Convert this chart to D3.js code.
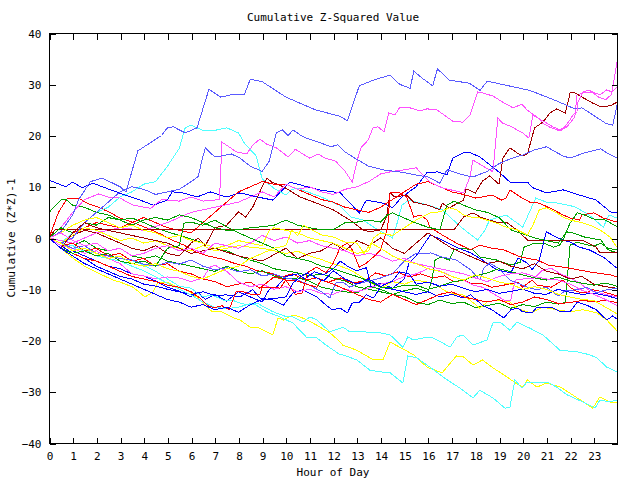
<!DOCTYPE html>
<html><head><meta charset="utf-8">
<script src="https://cdn.jsdelivr.net/npm/d3@7"></script>
<style>body{margin:0;background:#fff}svg{display:block}text{font-family:"DejaVu Sans Mono",monospace;font-size:11px;fill:#000}</style>
</head><body>
<script>
// ---- data: [hour, cumulative value] ----
const hourTicks = d3.range(0, 24);
const valueTicks = [-40, -30, -20, -10, 0, 10, 20, 30, 40];

const R1 = [[0,0],[0.4,5],[0.75,7.6],[1.25,7.8],[1.6,6.8],[2.1,6],[2.6,4.9],[3,3.9],[3.5,3.1],[4.1,2],[4.7,0.8],[5.2,-0.4],[5.7,-1.4],[6.2,-2.7],[6.7,-3.5],[7.3,-4.1],[7.8,-4.9],[8.3,-5.5],[8.8,-6.4],[9.3,-6.8],[9.8,-7.6],[10.3,-7],[10.8,-8.2],[11.3,-7.8],[11.8,-8.6],[12.3,-7.8],[12.8,-8.8],[13.3,-8.4],[13.8,-6.8],[14.2,-7.4],[14.7,-6.6],[15.2,-7.6],[15.7,-7],[16.2,-7.8],[16.7,-7.4],[17.1,-8.6],[17.5,-8.2],[17.8,-8.8],[18.2,-8.8],[18.7,-9.6],[19.2,-9.2],[19.8,-8.6],[20,-9.6],[20.4,-8.2],[20.6,-9.2],[21.2,-9.6],[21.7,-8.2],[22,-9.6],[22.3,-10.5],[22.7,-10.7],[22.96,-10.1],[23.4,-10.5],[23.98,-11.3]];
const G1 = [[0,5],[0.5,7.4],[0.7,7.6],[1,6.4],[1.5,6],[2,5],[2.5,4.5],[3,3.5],[3.5,3.9],[4,3],[4.5,2],[5,1.2],[5.5,0.5],[6,-0.2],[6.5,-1],[7,-2],[7.5,-2.5],[8,-3.5],[8.5,-4.3],[9,-5],[9.5,-6],[10,-6.4],[10.5,-6.8],[11,-7.4],[11.5,-7],[12,-7.8],[12.5,-8.4],[13,-9.5],[13.5,-10],[14,-10.5],[14.5,-11],[15,-11.4],[15.5,-12.5],[16,-13],[16.5,-12.1],[17,-12.8],[17.5,-12.5],[18,-13.6],[18.5,-13.2],[19,-12.7],[19.5,-13.7],[20,-13],[20.5,-13.4],[21,-12.5],[21.5,-12.9],[21.8,-12.6],[21.9,-7],[22,-1.4],[22.3,-0.8],[22.6,-1.2],[23,-1.6],[23.3,-1],[23.6,-2],[23.98,-2.3]];
const B1 = [[0,11.3],[0.7,10],[1,10.9],[1.4,9.8],[1.85,10.7],[2.6,9.4],[3.2,8.4],[3.85,7.4],[4.4,6.4],[5,7.4],[5.2,9],[5.65,8.8],[6.25,8],[6.8,9],[7.5,8],[8.06,8.8],[8.8,8],[9.45,7.4],[10.17,10.9],[10.9,10],[11.4,9.4],[12.3,8.8],[13.1,4.9],[13.4,7.4],[14.1,6.8],[14.5,5.9],[14.9,8],[15.5,10],[15.95,12.7],[16.4,12.9],[16.8,12.3],[17.05,15.6],[17.5,16.6],[17.8,16.6],[18.2,15.8],[19.04,12.7],[19.46,10.9],[20.2,10.9],[20.43,9.8],[21,8.8],[21.7,9.4],[22.1,8.8],[23.1,7.4],[23.7,5.1],[23.98,4.9]];
const M1 = [[0,0],[0.5,2],[1,5],[1.5,7.5],[2.1,8.6],[2.5,8],[3,7.8],[3.5,6.5],[4,6],[4.3,5.8],[4.75,7.5],[5.5,7.2],[6,8],[6.5,7.2],[7.2,7.5],[7.3,18.7],[7.6,17.8],[7.9,16.8],[8.35,16.4],[8.6,18.1],[8.9,19.3],[9.2,18.3],[9.6,17.6],[10.1,15.8],[10.4,17.3],[11,15.6],[11.35,16.4],[11.65,15.6],[12.1,15],[12.5,13],[12.8,10.9],[13.04,15.6],[13.17,17.6],[13.47,19.1],[13.68,21.5],[13.89,21.7],[14.14,20.7],[14.35,24.4],[14.6,24],[14.8,25.4],[15.24,25.4],[15.66,24.8],[15.96,25.2],[16.38,25],[16.8,23.6],[17.05,22.8],[17.48,22.6],[17.77,24],[18.1,28.5],[18.32,28.3],[18.74,27.7],[19.16,26.5],[19.59,25.4],[19.97,26.1],[20.18,25],[20.6,23.6],[20.85,22.4],[21.15,21.6],[21.57,20.9],[21.87,21.7],[22.2,23.6],[22.29,27.9],[22.54,28.3],[22.96,28.5],[23.26,27.9],[23.55,28.9],[23.76,28.5],[23.98,29.5]];
const C1 = [[0,0],[0.5,-1],[1,1],[1.5,3],[2,5],[2.5,6],[3,8],[3.5,9],[4,10.5],[4.5,11],[5,14],[5.5,17.5],[5.75,21.5],[6,22],[6.5,21],[7,21],[7.5,21.5],[8,20.5],[8.25,18.5],[8.75,16],[9,11.5],[9.5,9.7],[10,8.4],[10.25,9.5],[10.5,9.7],[11.5,8],[12.25,6.4],[12.75,4.1],[13.25,3.5],[13.75,2],[14.5,0],[14.65,2.1],[14.9,6.4],[15.2,7.4],[16,6.4],[16.6,5.5],[17.4,2.1],[18.1,-0.4],[18.4,1.5],[18.6,3.5],[19.3,4.5],[20,2.1],[20.55,7.8],[21,7],[21.5,6.8],[22.2,6.1],[22.8,4.5],[23.4,2.1],[23.65,4.5],[23.98,3.9]];
const DR1 = [[0,0],[0.5,-1],[1,0.5],[1.5,1.5],[2,1],[2.5,0],[3,-1],[3.5,-2],[4,-2.5],[4.5,-1.5],[5,-3],[5.5,-3.5],[6,-1],[6.3,0],[6.6,-1.5],[7,2],[7.5,2.5],[8,5.1],[8.3,4.1],[8.6,6],[9,10],[9.2,11.7],[9.4,10.9],[9.9,10],[10.6,8],[11.3,6.8],[12,5.5],[12.7,3.5],[13.25,1.6],[13.55,1.2],[14,1.6],[14.25,4.1],[14.4,8.8],[14.6,8],[15.1,8.4],[15.4,7],[16,6.4],[16.5,5.5],[16.6,6.8],[16.9,5.9],[17.5,7.4],[17.6,9.6],[18,8.8],[18.3,11.1],[18.6,12.1],[19,10.5],[19.16,15.6],[19.46,17.6],[19.7,16.8],[19.97,16],[20.2,16.4],[20.3,18.1],[20.5,21.5],[20.85,22.6],[21.15,24.4],[21.44,25.2],[21.7,24.6],[21.8,24.4],[22,28.3],[22.2,28.3],[22.5,27.5],[22.96,26.3],[23.3,25.6],[23.7,25.8],[23.98,26.5]];
const Y1 = [[0,0],[0.5,-2],[1,-3.9],[1.5,-5.5],[2.15,-7],[2.7,-8.2],[3,-8.6],[3.55,-9.6],[4.05,-11.5],[4.4,-10.5],[4.6,-8.6],[5,-8.6],[5.4,-9.6],[5.8,-10.1],[6.25,-11.5],[6.67,-13.5],[6.9,-14.4],[7.3,-14.4],[7.7,-15.4],[8.06,-16],[8.5,-17.4],[8.8,-17.4],[9.45,-18.9],[9.67,-15.6],[9.9,-16],[10.3,-15],[10.6,-15.4],[10.9,-16],[11.3,-17],[11.86,-18.5],[12.3,-20.3],[12.4,-20.9],[13,-21.9],[13.7,-23.8],[14.1,-23.8],[14.4,-20.3],[14.8,-21.3],[15.4,-22.8],[15.96,-25.2],[16.6,-26.3],[17.2,-23],[17.5,-23.2],[17.9,-24.8],[18.3,-23.8],[18.7,-25.2],[19.2,-26.7],[19.7,-28.3],[20,-29.1],[20.2,-27.7],[20.6,-29.1],[21,-28.3],[21.6,-29.1],[22.1,-30.6],[22.96,-33.2],[23.26,-31],[23.7,-32],[23.98,-32.2]];
const SB1 = [[0,0],[0.5,1.2],[1,4.5],[1.25,7.5],[1.75,11],[2.25,11.7],[3,10],[3.25,9],[3.5,13],[3.75,17],[4.25,18.5],[4.75,20],[5,21.5],[5.25,21.7],[5.75,20.5],[6.25,21.5],[6.75,29],[7.25,27.5],[7.75,28],[8.25,28],[8.5,31],[9,30.5],[10,27.5],[11.25,25],[12.25,23.8],[12.6,22.9],[13.1,29.7],[13.7,30.8],[14.4,31.8],[14.8,30],[15.25,29.2],[15.4,32.6],[15.75,31.2],[16.2,29.7],[16.4,33],[16.9,30.8],[17.75,30.2],[18.2,28.8],[18.5,30.6],[19.5,29.6],[20.3,28.8],[21.4,26.8],[22.2,25.2],[22.5,25.4],[23.5,22.4],[23.8,22],[23.98,25.9]];

const R2 = [[0,0],[0.5,2],[1,1],[2,3],[3,2],[4,4],[5,2],[6,1],[6.5,3],[7,5],[7.5,7],[8,9],[8.5,10],[9,11],[9.5,10.5],[10,10.5],[10.5,9.5],[11,8.5],[11.5,7.5],[12,7],[12.5,6],[13,5.5],[13.5,5],[14,6],[14.5,7.5],[15,9],[15.5,10.5],[16,11],[16.5,10],[17,9],[17.5,8.5],[18,7.8],[18.3,8],[18.7,8.4],[19.1,7.4],[19.3,7.8],[19.46,9.4],[19.9,8],[20.3,7],[20.7,6.8],[21.3,5.5],[21.7,4.5],[22,3.9],[22.4,3.5],[22.5,4.5],[23,4.9],[23.4,3.9],[23.98,3.1]];
const G2 = [[0,0],[0.5,-1],[1,-1.5],[1.5,-0.5],[2,-2],[2.5,-2.5],[3,-2],[3.5,-3.5],[4,-4],[4.5,-3.5],[5,-4.5],[5.5,-5],[6,-5.5],[6.5,-6],[7,-6.5],[7.5,-5.5],[8,-6.4],[8.5,-7],[9,-6.4],[9.5,-7.4],[10,-8],[10.5,-7.8],[11,-8.4],[11.5,-9.6],[12,-10.1],[12.5,-10.5],[13,-10.7],[13.5,-9.4],[14,-10],[14.5,-11],[15,-10.3],[15.5,-9.8],[16,-10.5],[16.15,-8.6],[16.3,-4.3],[16.55,-3.7],[16.9,-4.3],[17.1,-2.3],[17.4,-2],[17.9,-2.3],[18.2,-3.7],[18.9,-4.3],[19.5,-5.3],[19.9,-4.7],[20.05,-1.8],[20.5,-1],[20.9,-1],[21.3,-1.8],[21.55,-1.4],[21.7,-0.4],[21.85,1.2],[22.1,1],[22.6,0.2],[23.3,-0.4],[23.6,-2.3],[23.98,-2.9]];
const B2 = [[0,0],[0.5,-1],[1,-2.5],[1.5,-3.5],[2,-4.5],[2.5,-5.5],[3,-6],[3.5,-7],[4,-7.4],[4.5,-8.4],[5,-9.6],[5.5,-10.4],[6,-11.5],[6.25,-10.5],[6.6,-12],[7,-11],[7.5,-12.3],[8,-10.5],[8.5,-11.5],[9,-12.5],[9.3,-10],[9.6,-9.6],[10,-7.5],[10.5,-7],[10.8,-8],[11.2,-6.6],[11.6,-7.2],[12,-6],[12.3,-4.5],[12.6,-5.5],[13,-6.4],[13.4,-5.8],[13.6,-9.6],[14,-8.8],[14.5,-9.8],[15,-8],[15.2,-4.9],[15.5,-3.5],[16.1,0.6],[16.6,-0.4],[17.2,-1.8],[17.8,-2.9],[18.3,-4.3],[18.9,-6.2],[19.5,-6.8],[19.8,-3.9],[20.2,-4.9],[20.4,-6.2],[20.7,-4.3],[21,1.2],[21.4,0.2],[21.7,-0.4],[22,-0.8],[22.4,-1.8],[22.8,-2.3],[23.4,-3.7],[23.98,-5.9]];
const M2 = [[0,0],[1,-1],[2,1],[3,2],[4,1.5],[5,3],[6,5],[7,6],[8,7],[9,9],[9.5,8],[10,10.5],[10.5,9.5],[11,10],[11.5,9],[12,8.5],[12.5,9.5],[13,10],[13.5,11],[14,12.5],[14.5,13],[15,13.3],[15.5,13.7],[16.08,10.9],[16.6,9.8],[17.5,8.8],[17.77,11.9],[17.9,15.2],[18.74,12.9],[18.95,23.4],[19.16,22.4],[19.54,21.7],[19.75,21.1],[20,20.5],[20.26,19.5],[20.43,24],[20.64,23.4],[21.02,22.4],[21.27,21.7],[21.57,21.1],[21.78,21.7],[21.99,23],[22.12,24],[22.29,24.6],[22.33,26.5],[22.54,28.5],[22.8,28.9],[23.2,27.5],[23.5,27],[23.75,28],[23.98,34.3]];
const C2 = [[0,0],[0.5,-1],[1,-1.5],[1.5,-2.5],[2,-3],[2.5,-3.5],[3,-4],[3.5,-4.4],[4,-5.3],[4.5,-6.5],[5,-8],[5.5,-9.4],[6,-9.8],[6.5,-11.5],[6.88,-11.1],[7.35,-12.1],[7.72,-12.1],[8.06,-12.7],[8.48,-13.1],[8.78,-12.7],[9.46,-14.4],[10.05,-15.4],[10.3,-15.4],[10.72,-16.4],[11.02,-15.4],[11.31,-16],[11.86,-18.3],[12.41,-17.4],[12.7,-18.3],[13.25,-18.3],[13.97,-18.5],[14.4,-18.9],[14.94,-21.3],[15.15,-19.3],[15.37,-19.9],[15.79,-19.5],[16.2,-19.5],[16.63,-20.5],[16.93,-21.3],[17.22,-19.3],[17.48,-18.9],[17.9,-20.9],[18.49,-19.9],[18.74,-16.6],[19.04,-16.4],[19.46,-18],[19.76,-16.4],[20.3,-17.6],[20.85,-18.9],[21.57,-21.9],[22.29,-22.2],[22.84,-22.8],[23.13,-23.4],[23.55,-25.2],[23.98,-26.1]];
const DR2 = [[0,0],[0.25,1.6],[17.1,1.6],[17.5,4.1],[17.9,4.9],[18.2,4.1],[18.6,3.5],[18.9,3.1],[19.3,3.1],[19.75,1.6],[20.2,-0.4],[22.5,-0.4],[23.1,-1.8],[23.26,-2.9],[23.98,-2.9]];
const Y2 = [[0,0],[0.5,-1],[1,0.5],[1.5,2],[2,1.5],[2.5,0.5],[3,-0.5],[3.5,0],[4,-1],[4.5,-0.5],[5,-1.5],[5.5,-2],[6,-2.5],[6.5,-1.5],[7,-2.5],[7.5,-2],[8,-1.5],[8.5,-1.8],[9,-2],[9.5,-2.5],[10,-3],[10.5,-2.6],[11,-3.5],[11.5,-4.2],[11.9,-4.9],[12.3,-5.5],[12.7,-6.2],[13,-7],[13.4,-8.2],[13.7,-9],[14.1,-9.6],[14.5,-8.5],[15,-9],[15.5,-8.2],[16.2,-8.8],[16.8,-10.5],[17.22,-11.1],[17.48,-11.1],[17.77,-12.1],[18.19,-13.7],[18.49,-12.5],[18.9,-12.1],[19.46,-12.5],[19.76,-13.7],[20.3,-14.6],[20.43,-14.4],[20.85,-13.5],[21.44,-14],[21.99,-14.4],[22.54,-14],[23.13,-14.6],[23.55,-16],[23.98,-18.1]];
const SB2 = [[0,0],[0.5,-1],[1,0],[1.5,3],[2,5],[2.5,7],[3,9],[3.5,10],[4,9.5],[4.5,8.5],[5,9],[5.5,9.5],[6,11],[6.3,12],[6.46,15.2],[6.6,17.6],[7,15.8],[7.25,16],[7.7,16.4],[8.06,15.6],[8.5,14],[9,13],[9.3,15],[9.6,20.5],[9.85,21.1],[10.1,20],[10.3,21.1],[10.7,19.8],[11.1,19.1],[11.5,18.5],[11.9,17.8],[12.2,18.2],[12.5,16.8],[12.9,15.6],[13.5,14],[14.1,13.3],[14.8,12.9],[15.5,12.3],[16,11.9],[16.5,10.7],[16.8,13.3],[17.5,12.3],[17.9,11.9],[18.5,13],[19,14.5],[19.5,15.5],[20,16.2],[20.5,17.2],[21,17.8],[21.7,16],[22,15.6],[22.6,16.6],[23.3,17.4],[23.55,16.6],[23.98,15.6]];

const R3 = [[0,0],[0.5,-1.5],[1,-1],[1.5,-2.5],[2,-2],[2.5,-3.5],[3,-3],[3.5,-4.5],[4,-4],[4.5,-5.5],[5,-5],[5.5,-6.5],[6,-7],[6.5,-8],[7,-8.5],[7.5,-9.5],[8,-9],[8.5,-8.6],[8.9,-9.8],[9.5,-7.6],[10,-8.2],[10.4,-11],[10.7,-10.7],[10.9,-6.8],[11.3,-5.7],[11.7,-6.8],[12,-4.9],[12.3,-1.8],[12.6,-1],[12.8,-2.3],[13.1,-5.7],[13.4,-4.9],[13.7,-3.7],[14,-2.3],[14.3,2.1],[14.4,8.8],[14.8,8.8],[15.1,8],[15.4,4.1],[15.7,4.5],[15.96,3.5],[16.1,2],[16.6,0.6],[17.2,-1],[17.8,-2.3],[18.2,-1.4],[18.7,-2],[19.2,-2.3],[19.9,-3.7],[20.6,-4.3],[21.1,-5.3],[22,-5.9],[22.8,-6.6],[23.7,-7.2],[23.98,-7.6]];
const G3 = [[0,0],[0.5,2],[1,1],[1.5,3],[2,2.5],[2.5,4],[3,3.5],[3.5,2.5],[4,3.5],[4.5,4],[5,3.5],[5.5,4.5],[6,4],[6.5,3],[7,2],[7.5,1.5],[8,1.6],[8.5,2],[9,2.2],[9.5,2.5],[10,3.5],[10.5,2.5],[11,2],[11.5,1.6],[12,1.6],[12.5,3],[13,3.1],[13.5,3.5],[14,3.1],[14.3,4.5],[14.5,4.9],[15,3.9],[15.5,2.9],[16,2.1],[16.5,1.6],[16.8,6.4],[17.1,7.2],[17.5,6.4],[18,5.5],[18.5,5],[19,4],[19.5,1.6],[20,0.8],[20.5,0],[21,-0.5],[21.5,-1],[21.8,0.8],[22,2.9],[22.3,4.9],[22.6,4.5],[23,3.7],[23.5,3.5],[23.98,2.2]];
const B3 = [[0,0],[0.5,-1.5],[1,-3],[1.5,-4],[2,-5.5],[2.5,-6.5],[3,-7.5],[3.5,-8],[4,-9],[4.5,-9.4],[5,-10],[5.5,-10.5],[6,-11],[6.5,-10.5],[7,-11.2],[7.5,-11.1],[8.06,-11.5],[8.6,-10.1],[8.9,-11.7],[9.45,-12.1],[9.9,-13.1],[10.3,-10.7],[10.7,-10.1],[11.3,-11.5],[11.7,-13.1],[11.95,-14],[12.3,-13.7],[12.6,-14.6],[12.8,-12.7],[13.1,-12.5],[13.4,-11.1],[13.7,-11.7],[14,-9.6],[14.5,-10],[15,-10.5],[15.5,-11],[16,-10.5],[16.5,-11.5],[17,-11],[17.5,-11.7],[17.8,-11.1],[18.3,-13.1],[18.7,-14],[19.2,-15.6],[19.5,-14],[19.8,-13.7],[20,-14.4],[20.4,-14.6],[20.6,-13.5],[21.2,-13.5],[21.6,-14.4],[22,-14.4],[22.3,-12.5],[22.7,-13.1],[23.1,-14],[23.55,-16],[23.8,-15.2],[23.98,-15.8]];
const M3 = [[0,0],[0.5,-1.5],[1,-2],[1.5,-3],[2,-2.5],[2.5,-4],[3,-5],[3.5,-7],[4,-7.4],[4.5,-8],[5,-7.6],[5.5,-7.8],[6,-8.5],[6.5,-7.8],[6.8,-5.7],[7,-5.3],[7.5,-6.5],[8,-8.6],[8.5,-9.5],[9,-9],[9.5,-10],[10,-9.5],[10.5,-10.5],[11,-10],[11.5,-10.8],[12,-11],[12.5,-10],[13,-10.5],[13.5,-9.8],[14,-9],[14.5,-8.5],[15,-7.5],[15.5,-7],[16,-6],[16.5,-6.4],[17,-7.5],[17.5,-8.2],[17.9,-9.2],[18.3,-9.6],[18.7,-10.7],[19.2,-12.1],[19.5,-12.1],[19.6,-9.6],[19.7,-8.2],[20,-8],[20.5,-7.8],[20.8,-6.4],[21.2,-5.9],[21.6,-7],[22,-7.8],[22.4,-8.8],[22.8,-10.2],[23.3,-10.8],[23.98,-11.5]];
const C3 = [[0,0],[0.5,-1],[1,-2],[1.5,-2.5],[2,-3.5],[2.5,-4],[3,-4.5],[3.5,-5.5],[4,-6.4],[4.5,-7.6],[5,-8.8],[5.5,-10],[6,-11.1],[6.5,-12.5],[7,-13.5],[7.5,-13.8],[8,-13.5],[8.6,-12.7],[9.2,-14.4],[9.75,-15.4],[10.3,-16.6],[10.9,-19.5],[11.3,-19.5],[11.7,-20.9],[12.3,-22.8],[12.41,-22.8],[13,-23.8],[13.55,-25.8],[13.97,-26.1],[14.4,-26.3],[14.94,-28.3],[15.15,-23],[15.53,-23.4],[16.08,-25.2],[16.63,-27.1],[17.35,-29.3],[17.9,-31.2],[18.19,-29.7],[18.74,-31.2],[19.25,-33.2],[19.46,-33],[19.67,-27.7],[19.97,-29.3],[20.18,-28.1],[20.43,-28.3],[21.02,-28.1],[21.44,-29.1],[21.87,-30.6],[22.54,-32],[23.05,-33.2],[23.26,-31.6],[23.68,-32],[23.98,-31.6]];
const DR3 = [[0,0],[0.5,-2],[1,1],[1.5,3],[2,2],[3,1],[4,0],[5,-1],[6,-3],[7,-2],[8,-3.5],[9,-4.5],[10,-2],[10.5,-4],[11,-3],[11.5,-2.5],[12,-1],[12.5,-2.5],[13,-0.5],[13.5,-1.5],[14,0],[14.5,-2],[15,-3],[15.5,-1],[16,1],[16.5,-0.5],[17,-2],[17.5,-3],[18,-4],[18.5,-5],[19,-4.5],[19.5,-5.5],[20,-6],[20.5,-5],[21,-6.5],[21.5,-7],[22,-8],[22.5,-7.5],[23,-9],[23.5,-9.5],[23.98,-9.8]];
const Y3 = [[0,0],[0.5,1],[1,2.5],[1.5,3.5],[2,4],[2.5,3],[3,2],[3.5,2.5],[4,1.5],[4.5,1],[5,0],[5.5,0.5],[6,-0.5],[6.5,-1],[7,-2],[7.5,-1.5],[8,-0.5],[8.5,-1],[9,-1.5],[9.3,1.5],[9.5,2],[10,1.5],[10.5,1],[11,0],[11.5,-0.5],[12,-1],[12.5,-2],[13,-3],[13.5,-2.5],[13.7,0],[14,1],[14.5,0.5],[15,2],[15.5,3.5],[16.08,4.9],[16.5,5.1],[16.9,5.9],[17.2,5.5],[17.5,4.5],[17.8,4.1],[18.2,3.9],[18.9,2.9],[19.3,2.1],[19.76,1.6],[20.2,0.6],[20.43,2.5],[20.7,5.5],[21,5.9],[21.44,4.9],[21.7,4.1],[22,3.5],[22.4,3.1],[22.84,2.5],[23.26,1.6],[23.68,0.2],[23.98,-1.8]];
const SB3 = [[0,0],[0.5,-1],[1,-2],[1.5,-1.5],[2,-3],[2.5,-3.5],[3,-4],[3.5,-4.3],[4,-5.1],[4.5,-5.5],[5,-4.7],[5.5,-5.1],[6,-4.3],[6.5,-5.5],[7,-6.2],[7.5,-5.8],[8,-6.6],[8.5,-6.2],[9,-7.4],[9.5,-7],[10,-7.8],[10.5,-8.2],[11,-9.2],[11.5,-10.5],[11.86,-11.7],[12.1,-8.8],[12.4,-8.6],[12.7,-9.6],[13,-9],[13.5,-8.4],[14,-7.8],[14.5,-7],[15,-4.5],[15.5,-3],[16,-3],[16.1,-2.9],[16.6,-3.7],[17.2,-4.3],[17.8,-6.2],[18.2,-8.2],[18.35,-5.9],[18.6,-4.9],[19,-6],[19.46,-8.2],[20.2,-9.6],[20.6,-10.1],[21,-9.6],[21.5,-11.3],[21.8,-10.3],[22.3,-10.1],[22.7,-9.6],[23.1,-10.7],[23.55,-10.1],[23.98,-9.8]];

const R4 = [[0,0],[0.5,-2],[1,-3],[1.5,-4],[2,-4.5],[2.5,-5.5],[3,-6.5],[3.5,-7.5],[4,-8],[4.5,-8.5],[5,-9.2],[5.5,-9.6],[6,-10.5],[6.4,-11.8],[6.7,-13.2],[7,-13.6],[7.3,-13.2],[7.6,-14],[7.9,-10.5],[8.2,-10.5],[8.6,-11.1],[8.9,-11.1],[9,-9.6],[9.5,-9.6],[9.75,-9.8],[10,-8.2],[10.5,-8.4],[11,-9.2],[11.3,-9.6],[11.5,-8.2],[12,-9],[12.5,-10],[13,-11],[13.5,-12],[14,-12.5],[14.5,-11],[15,-12],[15.5,-13],[16,-12],[16.5,-11],[17,-10.5],[17.5,-11.5],[18,-12],[18.5,-12.5],[19,-12],[19.5,-13],[20,-12.5],[20.5,-11.5],[21,-12],[21.5,-12.8],[22,-12.6],[22.5,-12.2],[23,-12.4],[23.5,-12.2],[23.98,-12.6]];
const G4 = [[0,0],[0.5,-2],[1,-3],[1.5,-2.5],[2,-3.5],[2.5,-3],[3,-4.5],[3.5,-5],[4,-4.5],[4.5,-5.5],[5,-2],[5.5,-1.5],[5.7,2.9],[6,3.1],[6.5,2.5],[7,3.5],[7.5,2.2],[8,1],[8.5,0],[9,-1],[9.5,-2],[10,-3.5],[10.5,-4],[11,-4.5],[11.5,-5.5],[12,-6],[12.5,-6.8],[13,-7.5],[13.5,-8.4],[14,-9.6],[14.5,-9.8],[15,-9.2],[15.5,-9.2],[16,-10],[16.5,-9.4],[17,-8.6],[17.5,-8.2],[18,-7.4],[18.5,-6.8],[19,-6],[19.5,-6.6],[20,-7.2],[20.5,-7.8],[21,-8.2],[21.5,-7.6],[22,-8.4],[22.5,-8.8],[23,-9.2],[23.5,-8.8],[23.98,-9.4]];
const B4 = [[0,0],[0.5,-2],[1,-3.5],[1.5,-5],[2,-6],[2.5,-7],[3,-8],[3.5,-9],[4,-10],[4.5,-11],[5,-12],[5.5,-12.5],[6,-13.5],[6.5,-13],[7,-14],[7.5,-13.5],[8,-14.5],[8.5,-13],[9,-12],[9.5,-11.8],[10,-11.5],[10.3,-8.8],[10.6,-7.6],[10.9,-6.8],[11.2,-7.6],[11.6,-8.4],[12,-6.4],[12.5,-8],[13,-9],[13.5,-8],[14,-9.5],[14.5,-8.4],[14.8,-6.6],[15.2,-7],[15.5,-9],[16,-8.6],[16.5,-9.4],[17,-9],[17.5,-9.8],[18,-10.5],[18.5,-10],[19,-10.8],[19.5,-10.4],[20,-10],[20.5,-10.8],[21,-11],[21.5,-10],[22,-10.6],[22.5,-11],[23,-10.8],[23.5,-11.2],[23.98,-11.8]];
const M4 = [[0,0],[0.5,1],[1,-0.5],[1.5,-1.5],[2,-1],[2.5,-2.5],[3,-2],[3.5,-3.5],[4,-3],[4.5,-2],[5,-1.5],[5.5,-2.5],[6,-2],[6.5,-3],[7,-1],[7.5,-1.5],[8,-2],[8.5,-1],[9,0.5],[9.5,-0.5],[10,0.2],[10.5,-1],[11,-0.5],[11.5,-1.5],[12,-2],[12.5,-2.5],[13,-3.5],[13.5,-3],[14,-3.5],[14.5,-4.5],[15,-4],[15.5,-5],[16,-5.5],[16.5,-6],[17,-6.5],[17.5,-7],[18,-7.8],[18.5,-8.5],[19,-7.5],[19.5,-7],[20,-6.8],[20.5,-7.5],[21,-8],[21.5,-8.2],[22,-9],[22.5,-10.2],[23,-11],[23.5,-12],[23.98,-13.2]];
const Y4 = [[0,0],[0.5,-1],[1,-2.5],[1.5,-2],[2,-3],[2.5,-4],[3,-3.5],[3.5,-5],[4,-5.5],[4.5,-5],[5,-6],[5.5,-6.5],[6,-7.5],[6.5,-8],[7,-7],[7.5,-6],[8,-5.5],[8.5,-4],[9,-3],[9.5,-2],[10,-1.5],[10.25,1.5],[10.5,0.5],[10.75,2.5],[11,1.8],[11.5,0.6],[12,0.2],[12.5,-0.8],[13,-1],[13.3,-3],[13.6,-1],[14,-2],[14.5,-3.5],[15,-4.5],[15.5,-5],[16,-6],[16.5,-6.5],[17,-7.5],[17.5,-8.2],[18,-7.2],[18.5,-7.8],[19,-8.6],[19.5,-9],[20,-10],[20.5,-9.5],[21,-10],[21.5,-11],[22,-11.5],[22.5,-12],[23,-12.2],[23.5,-13.5],[23.98,-14.8]];

// drawing order and colours (gnuplot line types)
const seriesList = [R1,G1,B1,M1,C1,DR1,Y1,SB1, R2,G2,B2,M2,C2,DR2,Y2,SB2, R3,G3,B3,M3,C3,DR3,Y3,SB3, R4,G4,B4,M4,Y4];
const palette = ["#ff0000","#00a000","#0000ff","#ff50ff","#50ffff","#a00000","#ffff00","#5a5aff"];
const seriesColor = [0,1,2,3,4,5,6,7, 0,1,2,3,4,5,6,7, 0,1,2,3,4,5,6,7, 0,1,2,3,6];

const W = 640, H = 480;
const L = 49, R = 617, T = 33, B = 443;
const svg = d3.select("body").append("svg").attr("width", W).attr("height", H);
const x = d3.scaleLinear().domain([0, 23.98]).range([L, R]);
const y = d3.scaleLinear().domain([-40, 40]).range([B, T]);

const line = d3.line().x(d => x(d[0])).y(d => y(d[1]));
const g = svg.append("g");
seriesList.forEach((s, i) => {
  g.append("path").attr("d", line(s)).attr("fill", "none")
    .attr("stroke", palette[seriesColor[i]]).attr("stroke-width", 1)
    .attr("shape-rendering", "crispEdges");
});

// border
svg.append("rect").attr("x", L + 0.5).attr("y", T + 0.5).attr("width", R - L).attr("height", B - T)
  .attr("fill", "none").attr("stroke", "#000").attr("stroke-width", 1).attr("shape-rendering", "crispEdges");

const tk = 6;
const axB = d3.axisBottom(x).tickValues(hourTicks).tickSize(-tk).tickPadding(tk + 3).tickFormat(d3.format("d"));
const axT = d3.axisTop(x).tickValues(hourTicks).tickSize(-tk).tickFormat("");
const axL = d3.axisLeft(y).tickValues(valueTicks).tickSize(-tk).tickPadding(tk + 2).tickFormat(d3.format("d"));
const axR = d3.axisRight(y).tickValues(valueTicks).tickSize(-tk).tickFormat("");
function styleAxis(sel) {
  sel.select(".domain").remove();
  sel.selectAll("line").attr("stroke", "#000").attr("shape-rendering", "crispEdges");
  sel.selectAll("text").attr("font-family", "DejaVu Sans Mono").attr("font-size", "11px").attr("fill", "#000");
}
svg.append("g").attr("transform", `translate(0.5,${B + 0.5})`).call(axB).call(styleAxis);
svg.append("g").attr("transform", `translate(0.5,${T + 0.5})`).call(axT).call(styleAxis);
svg.append("g").attr("transform", `translate(${L + 0.5},0.5)`).call(axL).call(styleAxis);
svg.append("g").attr("transform", `translate(${R + 0.5},0.5)`).call(axR).call(styleAxis);

svg.append("text").attr("x", (L + R) / 2).attr("y", 21).attr("text-anchor", "middle").text("Cumulative Z-Squared Value");
svg.append("text").attr("x", (L + R) / 2).attr("y", 476).attr("text-anchor", "middle").text("Hour of Day");
svg.append("text").attr("transform", `translate(15,${(T + B) / 2}) rotate(-90)`).attr("text-anchor", "middle").text("Cumulative (Z*Z)-1");
</script>
</body></html>
